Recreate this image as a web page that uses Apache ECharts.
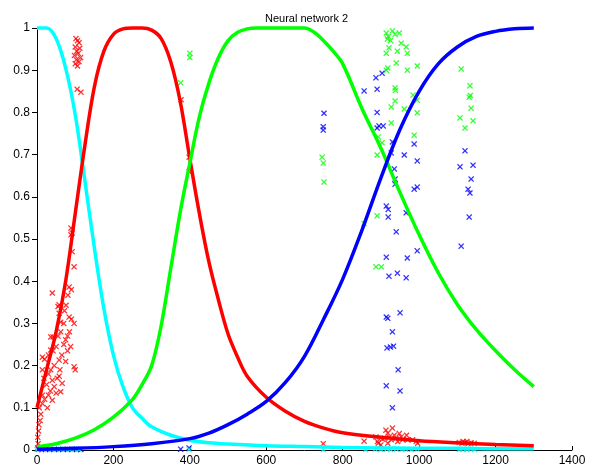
<!DOCTYPE html>
<html>
<head>
<meta charset="utf-8">
<script src="https://cdn.jsdelivr.net/npm/echarts@6.0.0/dist/echarts.min.js"></script>
<style>
  html, body { margin: 0; padding: 0; background: #fff; }
  #chart { width: 595px; height: 468px; }
</style>
</head>
<body>
<div id="chart"></div>
<script>
// curves, [x, output]
const cyanCurve = [[0,1],[25,1],[50,0.975],[75,0.905],[100,0.795],[125,0.64],[150,0.48],[175,0.335],[200,0.225],[225,0.15],[250,0.1],[275,0.075],[300,0.055],[350,0.035],[400,0.023],[450,0.017],[500,0.014],[600,0.01],[700,0.008],[800,0.006],[900,0.005],[1000,0.004],[1100,0.004],[1200,0.003],[1300,0.003]];
const redCurve = [[0,0.1],[25,0.19],[50,0.28],[75,0.4],[100,0.56],[125,0.72],[150,0.86],[175,0.945],[200,0.985],[225,0.998],[250,1],[275,1],[300,0.995],[325,0.975],[350,0.92],[375,0.825],[400,0.69],[425,0.56],[450,0.445],[475,0.355],[500,0.275],[525,0.22],[550,0.175],[600,0.125],[650,0.092],[700,0.068],[750,0.052],[800,0.041],[900,0.03],[1000,0.022],[1100,0.017],[1200,0.013],[1300,0.01]];
const greenCurve = [[0,0.008],[50,0.015],[100,0.028],[150,0.048],[200,0.078],[250,0.12],[275,0.155],[300,0.2],[325,0.295],[350,0.43],[375,0.565],[400,0.68],[425,0.79],[450,0.87],[475,0.93],[500,0.97],[525,0.99],[550,0.998],[575,1],[700,1],[725,0.99],[750,0.97],[775,0.945],[800,0.915],[850,0.81],[900,0.715],[950,0.61],[1000,0.51],[1050,0.42],[1100,0.345],[1150,0.285],[1200,0.235],[1250,0.19],[1300,0.15]];
const blueCurve = [[0,0.002],[100,0.004],[200,0.008],[300,0.015],[400,0.027],[450,0.04],[500,0.06],[550,0.085],[600,0.115],[650,0.16],[700,0.222],[750,0.31],[800,0.405],[850,0.52],[900,0.645],[950,0.76],[1000,0.85],[1050,0.915],[1100,0.955],[1150,0.98],[1200,0.992],[1250,0.998],[1300,1]];

// target points (x markers)
const redPts = [[2,0.005],[3,0.015],[2,0.03],[4,0.045],[5,0.06],[8,0.07],[10,0.085],[6,0.1],[14,0.11],[20,0.12],[27,0.1],[40,0.118],[30,0.13],[14,0.13],[35,0.14],[50,0.135],[62,0.138],[45,0.15],[66,0.158],[25,0.155],[18,0.17],[53,0.17],[58,0.175],[40,0.165],[30,0.18],[14,0.19],[45,0.2],[36,0.19],[60,0.19],[97,0.197],[100,0.19],[58,0.213],[75,0.21],[20,0.215],[14,0.22],[30,0.225],[65,0.225],[42,0.235],[36,0.237],[80,0.235],[50,0.245],[70,0.25],[88,0.245],[75,0.261],[80,0.27],[36,0.268],[42,0.268],[55,0.27],[85,0.28],[62,0.28],[97,0.3],[70,0.3],[62,0.303],[84,0.315],[58,0.324],[90,0.31],[72,0.33],[55,0.34],[76,0.343],[58,0.344],[81,0.367],[40,0.372],[84,0.386],[90,0.38],[97,0.434],[92,0.47],[89,0.51],[92,0.514],[89,0.526],
  [102,0.975],[106,0.97],[110,0.965],[100,0.955],[112,0.952],[104,0.945],[108,0.94],[98,0.935],[114,0.93],[103,0.925],[110,0.92],[100,0.915],[106,0.91],[105,0.855],[115,0.848],
  [377,0.83],[398,0.694],[398,0.66],[749,0.015],
  [856,0.021],[887,0.031],[891,0.02],[893,0.016],[904,0.026],[913,0.047],[918,0.04],[922,0.031],[930,0.052],[927,0.024],[935,0.035],[939,0.027],[944,0.02],[948,0.039],[953,0.031],[957,0.024],[967,0.035],[970,0.024],[983,0.024],[992,0.02],[996,0.016],[918,0.016],[910,0.028],[900,0.012],
  [1105,0.018],[1112,0.016],[1120,0.018],[1128,0.015],[1136,0.017],[1144,0.016],[1115,0.02],[1125,0.02]];
const greenPts = [[376,0.87],[400,0.94],[400,0.93],[746,0.694],[749,0.68],[751,0.635],
  [914,0.988],[930,0.993],[948,0.988],[919,0.98],[937,0.985],[917,0.974],[925,0.97],[953,0.964],[921,0.953],[943,0.945],[966,0.955],[914,0.94],[969,0.94],[940,0.917],[914,0.9],[918,0.905],[969,0.9],[995,0.91],[937,0.858],[938,0.852],[984,0.841],[995,0.829],[937,0.827],[927,0.813],[961,0.808],[995,0.799],[927,0.775],[987,0.746],[893,0.742],[903,0.728],[890,0.699],[856,0.537],[890,0.555],[887,0.434],[901,0.434],
  [1110,0.903],[1133,0.863],[1131,0.836],[1134,0.84],[1136,0.81],[1107,0.787],[1141,0.78],[1120,0.763]];
const bluePts = [[376,0.002],[398,0.005],[751,0.798],[749,0.766],[749,0.758],
  [856,0.851],[890,0.855],[887,0.882],[903,0.893],[890,0.8],[895,0.768],[906,0.768],[890,0.763],[930,0.73],[927,0.704],[961,0.699],[987,0.725],[995,0.685],[935,0.666],[937,0.642],[937,0.63],[987,0.618],[995,0.623],[914,0.578],[919,0.57],[919,0.552],[966,0.562],[940,0.517],[995,0.472],[914,0.457],[969,0.455],[921,0.412],[943,0.419],[966,0.408],[914,0.315],[918,0.312],[950,0.325],[930,0.28],[916,0.242],[925,0.244],[933,0.246],[945,0.19],[914,0.152],[950,0.14],[930,0.1],
  [1120,0.709],[1107,0.671],[1141,0.675],[1136,0.642],[1128,0.618],[1133,0.609],[1131,0.552],[1110,0.483],
  [3,0.002],[12,0.001],[22,0.002],[33,0.001],[45,0.002],[57,0.001],[68,0.002],[80,0.001],[92,0.002],[104,0.001],[115,0.001]];
const cyanPts = [[0,0.001],[7,0.002],[17,0.001],[28,0.002],[39,0.001],[50,0.002],[62,0.001],[74,0.002],[86,0.001],[98,0.002],[110,0.001],
  [398,0.001],[749,0.001],[860,0.001],[885,0.002],[900,0.001],[915,0.002],[925,0.001],[940,0.002],[955,0.001],[965,0.002],[980,0.001],[995,0.002],[1105,0.001],[1115,0.002],[1125,0.001],[1135,0.002],[1145,0.001]];

const xTicks = { min: 0, max: 1400, step: 200 };
const yTicks = { min: 0, max: 1, step: 0.1 };

const cross = 'path://M0,1.5L1.5,0L5,3.5L8.5,0L10,1.5L6.5,5L10,8.5L8.5,10L5,6.5L1.5,10L0,8.5L3.5,5Z';

function curve(data, color) {
  return {
    type: 'line', data: data, smooth: 0.35, symbol: 'none', clip: false,
    lineStyle: { color: color, width: 3.5 }
  };
}
function marks(data, color) {
  return {
    type: 'scatter', data: data, symbol: cross, symbolSize: 6, clip: false,
    itemStyle: { color: color }
  };
}

let myChart = echarts.init(document.getElementById('chart'));
myChart.setOption({
  animation: false,
  textStyle: { fontFamily: 'Liberation Sans, Arial, sans-serif' },
  title: {
    text: 'Neural network 2',
    left: 260, top: 8,
    textStyle: { fontSize: 11, fontWeight: 'normal', color: '#000' }
  },
  grid: { left: 37, right: 23, top: 28, bottom: 18 },
  xAxis: {
    type: 'value', min: xTicks.min, max: xTicks.max, interval: xTicks.step,
    axisLine: { lineStyle: { color: '#000', width: 1 } },
    axisTick: { inside: true, length: 4, lineStyle: { color: '#000' } },
    axisLabel: { color: '#000', fontSize: 12, margin: 5, formatter: v => String(v) },
    splitLine: { show: false }
  },
  yAxis: {
    type: 'value', min: yTicks.min, max: yTicks.max, interval: yTicks.step,
    axisLine: { show: true, lineStyle: { color: '#000', width: 1 } },
    axisTick: { show: true, inside: false, length: 5, lineStyle: { color: '#000' } },
    axisLabel: { color: '#000', fontSize: 12, margin: 7 },
    splitLine: { show: false }
  },
  series: [
    curve(cyanCurve, '#00ffff'),
    curve(redCurve, '#ff0000'),
    curve(greenCurve, '#00ff00'),
    curve(blueCurve, '#0000ff'),
    marks(redPts, '#ff0000'),
    marks(greenPts, '#00ff00'),
    marks(bluePts, '#0000ff'),
    marks(cyanPts, '#00ffff')
  ]
});
</script>
</body>
</html>
